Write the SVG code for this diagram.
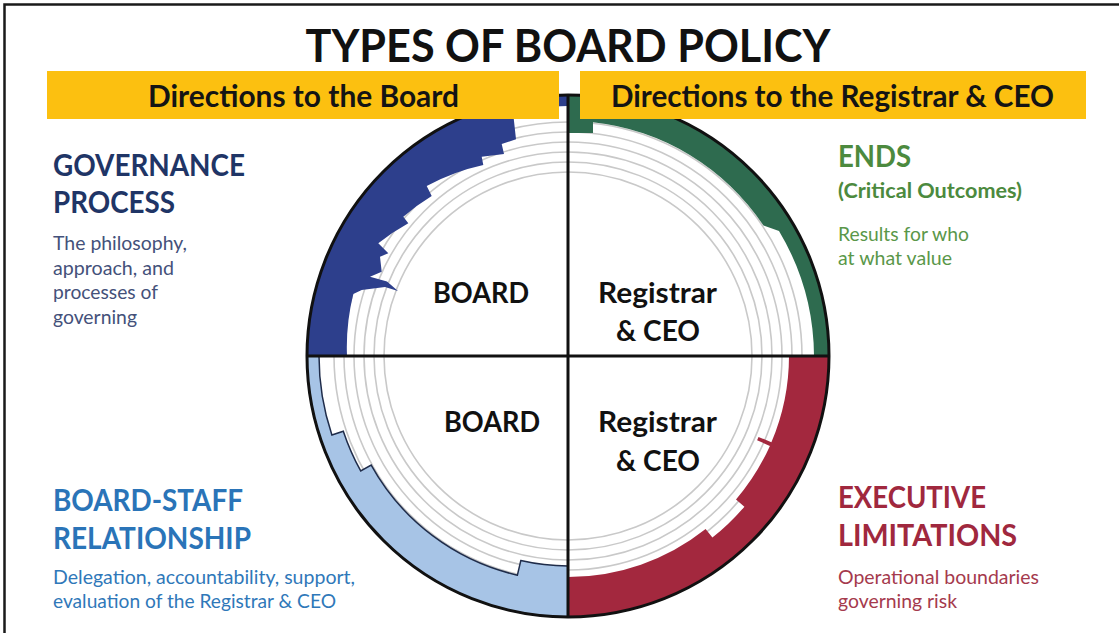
<svg xmlns="http://www.w3.org/2000/svg" width="1119" height="633" viewBox="0 0 1119 633">
  <style>
    text { font-family: Lato, "Open Sans", "Liberation Sans", sans-serif; }
    .bold { font-weight: 700; }
    .title { font-size: 46px; fill: #111; }
    .banner-text { font-size: 29.5px; fill: #141414; }
    .head { font-size: 29.5px; }
    .sub { font-size: 21px; }
    .desc { font-size: 19px; }
    .centre { font-size: 29px; fill: #111; }
    .ring { fill: none; stroke: #c9c9c9; stroke-width: 1.6; }
    .axis { stroke: #111; stroke-width: 3; fill: none; }
    .banner { fill: #fcc010; }
  </style>

  <rect width="1119" height="633" fill="#fff"/>
  <!-- slide frame (left and top edges only) -->
  <path d="M 4.5 640 L 4.5 4.5 L 1125 4.5" fill="none" stroke="#1a1a1a" stroke-width="2.5"/>

  <!-- nested policy levels -->
  <g id="levels">
    <circle class="ring" cx="568" cy="356" r="184"/>
    <circle class="ring" cx="568" cy="356" r="194"/>
    <circle class="ring" cx="568" cy="356" r="204"/>
    <circle class="ring" cx="568" cy="356" r="214"/>
    <circle class="ring" cx="568" cy="356" r="224"/>
    <circle class="ring" cx="568" cy="356" r="234"/>
  </g>

  <!-- quadrant bands -->
  <g id="band-governance">
    <path fill="#2d3f8c" d="M 568 95 A 261 261 0 0 0 307 356 L 347 356 A 221 221 0 0 1 353.3 294 L 361.7 290 L 385 287 L 398 291 L 387 281.5 L 370 276.7 L 381.7 271.7 L 380 256.7 L 388.3 253.3 L 378.3 243.3 A 215 215 0 0 1 408.3 223.3 L 403.3 216.7 A 213 213 0 0 1 431.7 196 L 426.7 186 A 215 215 0 0 1 483.3 165 L 481.7 156.7 L 504 154 L 501.7 144 L 516 139.3 L 513 112 A 250 250 0 0 1 568 106 Z"/>
  </g>
  <g id="band-ends">
    <path fill="#2e6b4f" d="M 568 95 A 261 261 0 0 1 829 356 L 814 356 A 246 246 0 0 0 779 231 L 763.5 225.6 A 235 235 0 0 0 593 122.3 L 593 133 L 568 133 Z"/>
  </g>
  <g id="band-limitations">
    <path fill="#a3283e" d="M 829 356 A 261 261 0 0 1 568 617 L 568 577 A 221 221 0 0 0 705.6 529 L 712.4 537.6 A 232 232 0 0 0 744.4 506.7 L 736 499.5 A 221 221 0 0 0 769.9 445.9 L 757.1 440.2 L 758.5 436.9 L 771.4 442.3 A 221 221 0 0 0 789 356 Z"/>
  </g>
  <g id="band-board-staff">
    <path fill="#a7c4e6" stroke="#1f2c4a" stroke-width="1.5" stroke-linejoin="miter" d="M 568 617 A 261 261 0 0 1 307 356 L 319 356 A 249 249 0 0 0 331.9 435 L 343.3 431.2 A 237 237 0 0 0 360.7 470.9 L 371.2 465.1 A 225 225 0 0 0 517.4 575.2 L 520.8 560.6 A 210 210 0 0 0 568 566 Z"/>
  </g>

  <!-- circle outline and quadrant dividers -->
  <g id="connectors">
    <circle class="axis" cx="568" cy="356" r="261" stroke-width="3.5"/>
    <line class="axis" x1="568" y1="95" x2="568" y2="617"/>
    <line class="axis" x1="307" y1="356" x2="829" y2="356"/>
  </g>

  <!-- heading -->
  <g id="title">
    <text class="title bold" x="568" y="62" text-anchor="middle" textLength="525" lengthAdjust="spacingAndGlyphs">TYPES OF BOARD POLICY</text>
  </g>

  <g id="banner-board">
    <rect class="banner" x="47" y="71" width="512" height="48"/>
    <text class="banner-text bold" x="148" y="107" textLength="311" lengthAdjust="spacingAndGlyphs">Directions to the Board</text>
  </g>
  <g id="banner-ceo">
    <rect class="banner" x="580" y="71" width="506" height="48"/>
    <text class="banner-text bold" x="611" y="107" textLength="443" lengthAdjust="spacingAndGlyphs">Directions to the Registrar &amp; CEO</text>
  </g>

  <!-- quadrant centre labels -->
  <g id="label-board-top">
    <text class="centre bold" x="433" y="303" textLength="96" lengthAdjust="spacingAndGlyphs">BOARD</text>
  </g>
  <g id="label-ceo-top">
    <text class="centre bold" x="598" y="303" textLength="119" lengthAdjust="spacingAndGlyphs">Registrar</text>
    <text class="centre bold" x="616" y="341" textLength="84" lengthAdjust="spacingAndGlyphs">&amp; CEO</text>
  </g>
  <g id="label-board-bottom">
    <text class="centre bold" x="444" y="432" textLength="96" lengthAdjust="spacingAndGlyphs">BOARD</text>
  </g>
  <g id="label-ceo-bottom">
    <text class="centre bold" x="598" y="432" textLength="119" lengthAdjust="spacingAndGlyphs">Registrar</text>
    <text class="centre bold" x="616" y="471" textLength="84" lengthAdjust="spacingAndGlyphs">&amp; CEO</text>
  </g>

  <!-- policy type descriptions -->
  <g id="governance-process">
    <text class="head bold" x="53" y="176" fill="#1f3566" textLength="192" lengthAdjust="spacingAndGlyphs">GOVERNANCE</text>
    <text class="head bold" x="53" y="213" fill="#1f3566" textLength="122" lengthAdjust="spacingAndGlyphs">PROCESS</text>
    <text class="desc" x="53" y="250" fill="#44517a" textLength="134" lengthAdjust="spacingAndGlyphs">The philosophy,</text>
    <text class="desc" x="53" y="274.5" fill="#44517a" textLength="121" lengthAdjust="spacingAndGlyphs">approach, and</text>
    <text class="desc" x="53" y="299" fill="#44517a" textLength="105" lengthAdjust="spacingAndGlyphs">processes of</text>
    <text class="desc" x="53" y="323.5" fill="#44517a" textLength="84" lengthAdjust="spacingAndGlyphs">governing</text>
  </g>

  <g id="ends">
    <text class="head bold" x="838" y="167" fill="#4c8a3e" textLength="73" lengthAdjust="spacingAndGlyphs">ENDS</text>
    <text class="sub bold" x="838" y="198" fill="#4c8a3e" textLength="184" lengthAdjust="spacingAndGlyphs">(Critical Outcomes)</text>
    <text class="desc" x="838" y="241" fill="#5a9749" textLength="131" lengthAdjust="spacingAndGlyphs">Results for who</text>
    <text class="desc" x="838" y="265" fill="#5a9749" textLength="114" lengthAdjust="spacingAndGlyphs">at what value</text>
  </g>

  <g id="board-staff">
    <text class="head bold" x="53" y="511" fill="#2a74b8" textLength="190" lengthAdjust="spacingAndGlyphs">BOARD-STAFF</text>
    <text class="head bold" x="53" y="549" fill="#2a74b8" textLength="198" lengthAdjust="spacingAndGlyphs">RELATIONSHIP</text>
    <text class="desc" x="53" y="584" fill="#2f78b9" textLength="302" lengthAdjust="spacingAndGlyphs">Delegation, accountability, support,</text>
    <text class="desc" x="53" y="608" fill="#2f78b9" textLength="283" lengthAdjust="spacingAndGlyphs">evaluation of the Registrar &amp; CEO</text>
  </g>

  <g id="executive-limitations">
    <text class="head bold" x="838" y="508" fill="#a0283e" textLength="148" lengthAdjust="spacingAndGlyphs">EXECUTIVE</text>
    <text class="head bold" x="838" y="546" fill="#a0283e" textLength="179" lengthAdjust="spacingAndGlyphs">LIMITATIONS</text>
    <text class="desc" x="838" y="584" fill="#a53a4d" textLength="201" lengthAdjust="spacingAndGlyphs">Operational boundaries</text>
    <text class="desc" x="838" y="608" fill="#a53a4d" textLength="119" lengthAdjust="spacingAndGlyphs">governing risk</text>
  </g>
</svg>
